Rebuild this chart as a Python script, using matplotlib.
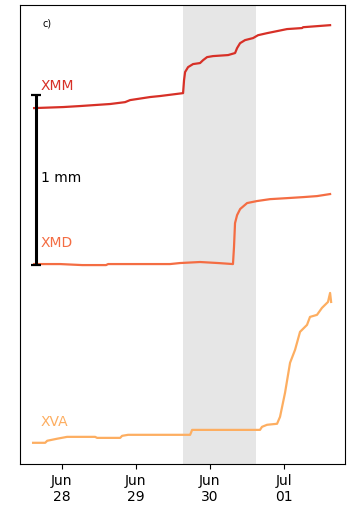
import matplotlib
matplotlib.use("Agg")
import matplotlib.pyplot as plt
import matplotlib.dates as mdates
import pandas as pd

# Cumulative stem growth (mm, relative to first reading) for three sensors
XMM_TIME = ["2021-06-27 15:05", "2021-06-28 00:30", "2021-06-28 06:00", "2021-06-28 15:45",
            "2021-06-28 20:35", "2021-06-28 22:13", "2021-06-29 04:42", "2021-06-29 07:57",
            "2021-06-29 15:24", "2021-06-29 15:43", "2021-06-29 16:03", "2021-06-29 17:01",
            "2021-06-29 18:38", "2021-06-29 20:54", "2021-06-29 21:53", "2021-06-29 23:11",
            "2021-06-30 01:07", "2021-06-30 06:00", "2021-06-30 08:16", "2021-06-30 08:55",
            "2021-06-30 09:53", "2021-06-30 11:30", "2021-06-30 14:06", "2021-06-30 15:43",
            "2021-06-30 18:38", "2021-06-30 21:53", "2021-07-01 01:07", "2021-07-01 06:00",
            "2021-07-01 06:20", "2021-07-01 15:05"]
XMM_GROWTH = [0.000, 0.006, 0.012, 0.024, 0.035, 0.047, 0.065, 0.071, 0.088, 0.165,
              0.212, 0.241, 0.259, 0.265, 0.282, 0.300, 0.306, 0.312, 0.324, 0.353,
              0.382, 0.400, 0.412, 0.429, 0.441, 0.453, 0.465, 0.471, 0.476, 0.488]

XMD_TIME = ["2021-06-27 15:05", "2021-06-27 23:30", "2021-06-28 06:40", "2021-06-28 14:25",
            "2021-06-28 15:05", "2021-06-29 11:10", "2021-06-29 14:25", "2021-06-29 20:54",
            "2021-06-30 02:45", "2021-06-30 07:35", "2021-06-30 07:55", "2021-06-30 08:15",
            "2021-06-30 08:55", "2021-06-30 09:55", "2021-06-30 12:10", "2021-06-30 15:25",
            "2021-06-30 19:35", "2021-07-01 01:05", "2021-07-01 06:20", "2021-07-01 10:50",
            "2021-07-01 15:05"]
XMD_GROWTH = [0.000, 0.000, -0.006, -0.006, 0.000, 0.000, 0.006, 0.012, 0.006, 0.000,
              0.100, 0.241, 0.288, 0.324, 0.359, 0.371, 0.382, 0.388, 0.394, 0.400, 0.412]

XVA_TIME = ["2021-06-27 14:45", "2021-06-27 18:40", "2021-06-27 19:20", "2021-06-27 22:32",
            "2021-06-28 01:47", "2021-06-28 10:52", "2021-06-28 11:31", "2021-06-28 19:00",
            "2021-06-28 19:37", "2021-06-28 21:34", "2021-06-29 17:41", "2021-06-29 18:20",
            "2021-06-30 16:21", "2021-06-30 17:00", "2021-06-30 18:38", "2021-06-30 21:53",
            "2021-06-30 22:51", "2021-07-01 00:28", "2021-07-01 02:06", "2021-07-01 03:43",
            "2021-07-01 05:20", "2021-07-01 07:36", "2021-07-01 08:34", "2021-07-01 10:50",
            "2021-07-01 12:27", "2021-07-01 14:24", "2021-07-01 15:05", "2021-07-01 15:25"]
XVA_GROWTH = [0.000, 0.000, 0.012, 0.024, 0.035, 0.035, 0.029, 0.029, 0.041, 0.047,
              0.047, 0.076, 0.076, 0.094, 0.106, 0.112, 0.153, 0.294, 0.471, 0.547,
              0.653, 0.694, 0.741, 0.753, 0.794, 0.829, 0.882, 0.829]

# vertical offsets so the series stack without overlapping (mm)
OFFSETS = {"XMM": 2.094, "XMD": 1.176, "XVA": 0.124}
COLORS = {"XMM": "#d73027", "XMD": "#f46d43", "XVA": "#fdae61"}

# rain event shading and axis window
RAIN_START, RAIN_END = "2021-06-29 15:25", "2021-06-30 15:05"
X_START, X_END = "2021-06-27 10:30", "2021-07-01 19:55"
SCALE_X = "2021-06-27 15:45"

series = {
    "XMM": (XMM_TIME, XMM_GROWTH),
    "XMD": (XMD_TIME, XMD_GROWTH),
    "XVA": (XVA_TIME, XVA_GROWTH),
}
label_y = {"XMM": 0.8235, "XMD": 0.4815, "XVA": 0.0915}

fig = plt.figure(figsize=(3.47, 5.12), dpi=100)
ax = fig.add_axes([0.0576, 0.094, 0.9366, 0.896])

ax.axvspan(pd.Timestamp(RAIN_START), pd.Timestamp(RAIN_END), color="#e6e6e6", lw=0, zorder=0)

for name, (t, g) in series.items():
    t = pd.to_datetime(t)
    y = [v + OFFSETS[name] for v in g]
    ax.plot(t, y, color=COLORS[name], lw=1.6, zorder=2)
    ax.text(0.0646, label_y[name], name, transform=ax.transAxes, color=COLORS[name],
            fontsize=10, va="center", ha="left")

# 1 mm scale bar
ax.errorbar([pd.Timestamp(SCALE_X)], [1.671], yerr=0.5, color="black", lw=2.2,
            capsize=3.6, capthick=1.6, zorder=3)
ax.text(0.0646, 0.623, "1 mm", transform=ax.transAxes, fontsize=10, va="center", ha="left")
ax.text(0.0680, 0.961, "c)", transform=ax.transAxes, fontsize=7, va="center", ha="left")

ax.set_xlim(pd.Timestamp(X_START), pd.Timestamp(X_END))
ax.set_ylim(0, 2.7)
ax.set_yticks([])
ax.xaxis.set_major_locator(mdates.DayLocator())
ax.xaxis.set_major_formatter(mdates.DateFormatter("%b\n%d"))
ax.tick_params(axis="x", labelsize=10)

fig.savefig("out.png", dpi=100)
